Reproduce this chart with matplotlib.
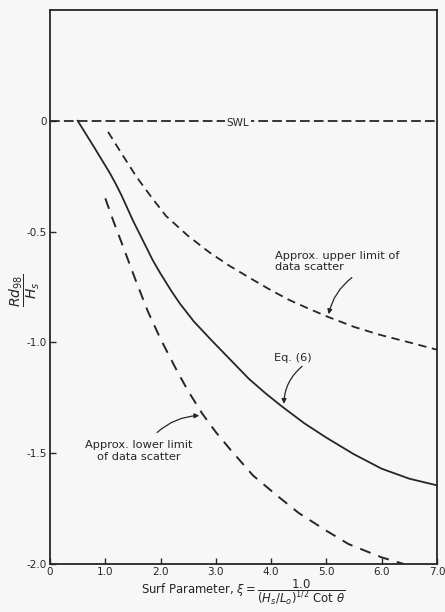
import matplotlib
matplotlib.use("Agg")
from matplotlib import pyplot as plt

plt.rcParams['font.family'] = ['DejaVu Sans']
plt.rcParams['lines.scale_dashes'] = False
plt.rcParams['mathtext.fontset'] = 'dejavusans'

# Eq. (6) curve
eqX = [0.5, 0.8, 1.08, 1.2, 1.3, 1.5, 1.66, 1.86, 2.0, 2.2, 2.35, 2.6, 2.9, 3.25,
       3.6, 3.9, 4.2, 4.6, 5.0, 5.5, 6.0, 6.5, 7.0]
eqY = [0.0, -0.12, -0.235, -0.29, -0.34, -0.45, -0.53, -0.63, -0.69, -0.77, -0.825,
       -0.905, -0.985, -1.075, -1.165, -1.23, -1.29, -1.365, -1.43, -1.505, -1.57, -1.615, -1.645]

# approx. upper limit of data scatter
upX = [1.05, 1.3, 1.57, 1.85, 2.1, 2.5, 2.89, 3.25, 3.62, 4.0, 4.34, 4.7, 5.03,
       5.5, 5.97, 6.5, 7.0]
upY = [-0.05, -0.15, -0.255, -0.35, -0.43, -0.52, -0.595, -0.655, -0.71, -0.765,
       -0.81, -0.85, -0.885, -0.93, -0.966, -1.0, -1.033]

# approx. lower limit of data scatter
lowX = [1.0, 1.15, 1.34, 1.55, 1.77, 2.0, 2.3, 2.5, 2.75, 3.0, 3.25, 3.67, 4.1,
        4.5, 5.0, 5.4, 6.0, 6.4]
lowY = [-0.35, -0.455, -0.58, -0.72, -0.86, -0.985, -1.13, -1.22, -1.32, -1.405, -1.48,
        -1.6, -1.69, -1.77, -1.85, -1.91, -1.97, -2.0]

xTicks = [0, 1, 2, 3, 4, 5, 6, 7]
xTickLabels = ["0", "1.0", "2.0", "3.0", "4.0", "5.0", "6.0", "7.0"]
yTicks = [0, -0.5, -1.0, -1.5, -2.0]
yTickLabels = ["0", "-0.5", "-1.0", "-1.5", "-2.0"]

ink = "#262626"
bg = "#f7f7f7"

figure = plt.figure(figsize=(4.45, 6.12), dpi=100, facecolor=bg)
ax = figure.add_axes([0.1124, 0.0784, 0.8696, 0.9053])
ax.set_facecolor(bg)

ax.set_xlim(0, 7)
ax.set_ylim(-2.0, 0.5)

# SWL line
ax.axhline(0, color=ink, lw=1.3, dashes=(7, 3))
ax.text(3.4, -0.012, "SWL", ha="center", va="center", fontsize=7.5, color=ink,
        bbox=dict(facecolor=bg, edgecolor="none", pad=1))

# curves
ax.plot(eqX, eqY, color=ink, lw=1.3)
ax.plot(upX, upY, color=ink, lw=1.3, dashes=(6, 4))
ax.plot(lowX, lowY, color=ink, lw=1.4, dashes=(8, 6))

# labels with arrows
ax.text(4.07, -0.635, "Approx. upper limit of\ndata scatter", fontsize=8.2,
        color=ink, ha="left", va="center", linespacing=1.2)
ax.annotate("", xy=(5.03, -0.885), xytext=(5.5, -0.7),
            arrowprops=dict(arrowstyle="-|>", color=ink, lw=0.9,
                            connectionstyle="arc3,rad=0.2", mutation_scale=7))

ax.text(4.4, -1.07, "Eq. (6)", fontsize=8.2, color=ink, ha="center", va="center")
ax.annotate("", xy=(4.23, -1.29), xytext=(4.6, -1.1),
            arrowprops=dict(arrowstyle="-|>", color=ink, lw=0.9,
                            connectionstyle="arc3,rad=0.25", mutation_scale=7))

ax.text(1.6, -1.49, "Approx. lower limit\nof data scatter", fontsize=8.2,
        color=ink, ha="center", va="center", linespacing=1.2)
ax.annotate("", xy=(2.75, -1.33), xytext=(1.9, -1.415),
            arrowprops=dict(arrowstyle="-|>", color=ink, lw=0.9,
                            connectionstyle="arc3,rad=-0.2", mutation_scale=7))

# ticks
ax.set_xticks(xTicks)
ax.set_xticklabels(xTickLabels, fontsize=7.5, color=ink)
ax.set_yticks(yTicks)
ax.set_yticklabels(yTickLabels, fontsize=7.5, color=ink)
ax.tick_params(direction="in", length=4, width=1, color=ink, pad=2)

for s in ax.spines.values():
    s.set_color(ink)
    s.set_linewidth(1.3)

ax.set_xlabel(r"Surf Parameter, $\xi = \dfrac{1.0}{(H_s/L_o)^{1/2}\ \mathrm{Cot}\ \theta}$",
              fontsize=8.4, color=ink, labelpad=0)
figure.text(25 / 445, 1 - 290 / 612, r"$\dfrac{Rd_{98}}{H_s}$", fontsize=10,
            color=ink, rotation=90, ha="center", va="center")

figure.savefig("out.png", dpi=100, facecolor=bg)
